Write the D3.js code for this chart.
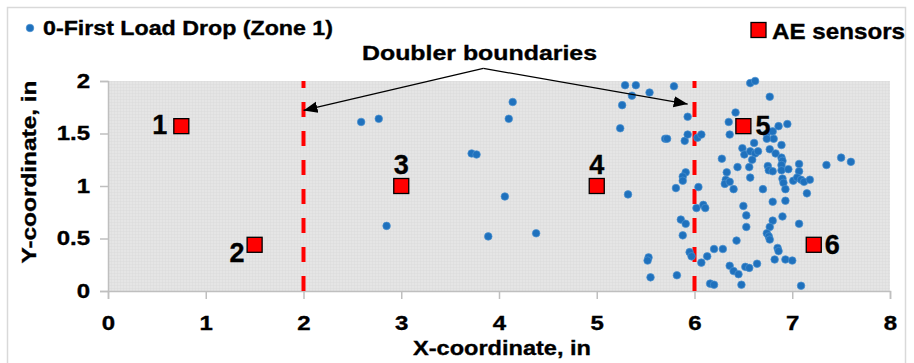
<!DOCTYPE html>
<meta charset="utf-8">
<style>
  body {margin: 0; background: #fff;}
  svg text {font-family: "Liberation Sans", Arial, sans-serif; font-weight: bold; fill: #000; stroke: #000; stroke-width: 0.35px;}
</style>
<svg width="914" height="363"></svg>
<script src="https://cdnjs.cloudflare.com/ajax/libs/d3/7.8.5/d3.min.js"></script>
<script>

// event locations (zone 1, first load drop)
var eventX = [2.59, 2.77, 3.72, 3.77, 4.14, 4.10, 4.06, 2.85, 3.89, 4.38,
  5.29, 5.40, 5.36, 5.54, 5.79, 5.26, 5.24, 5.93, 5.70, 5.72, 5.90, 5.93, 6.03, 6.07, 5.91, 5.88, 5.88, 5.32, 5.81, 6.04,
  6.57, 6.62, 6.77, 6.42, 6.35, 6.36, 6.86, 6.95, 6.74, 6.80, 6.81, 6.74, 6.89, 6.61, 6.49, 6.51, 6.57, 6.62, 6.65, 6.59,
  6.77, 6.83, 6.89, 6.90, 6.89, 6.28, 6.44, 6.56, 6.75, 6.76, 6.80, 6.89, 6.96, 7.07, 7.07, 7.35, 7.50, 7.60, 6.33, 6.32,
  6.31, 6.36, 6.40, 6.57, 6.70, 6.90, 6.91, 6.93, 7.01, 7.05, 7.09, 7.12, 7.18, 7.15, 6.80, 6.93,
  6.02, 6.09, 6.11, 5.86, 5.91, 5.88, 5.95, 5.97, 6.07, 6.13, 6.20, 6.29, 5.53, 5.52, 5.55, 5.82, 6.16, 6.20, 6.36, 6.40,
  6.45, 6.52, 6.56, 6.64, 6.48, 6.43, 6.50, 6.53, 6.53, 6.90, 6.80, 6.77, 6.74, 6.76, 6.77, 6.85, 6.86, 6.82, 6.93, 7.00,
  7.07, 7.09];
var eventY = [1.61, 1.64, 1.31, 1.30, 1.80, 1.64, 0.90, 0.62, 0.52, 0.55,
  1.96, 1.96, 1.86, 1.89, 1.95, 1.77, 1.55, 1.66, 1.45, 1.45, 1.43, 1.49, 1.46, 1.49, 1.13, 1.09, 1.05, 0.92, 0.98, 0.99,
  1.98, 2.00, 1.85, 1.70, 1.61, 1.49, 1.57, 1.59, 1.50, 1.52, 1.45, 1.45, 1.39, 1.41, 1.36, 1.30, 1.33, 1.31, 1.33, 1.25,
  1.35, 1.31, 1.27, 1.24, 1.20, 1.26, 1.18, 1.18, 1.19, 1.15, 1.14, 1.15, 1.16, 1.21, 1.14, 1.20, 1.27, 1.23, 1.13, 1.06,
  1.02, 1.04, 0.97, 1.08, 0.97, 1.07, 1.03, 0.97, 1.05, 1.08, 1.06, 1.04, 1.06, 0.93, 0.85, 0.86,
  0.79, 0.82, 0.79, 0.68, 0.64, 0.53, 0.37, 0.33, 0.27, 0.33, 0.40, 0.40, 0.32, 0.29, 0.13, 0.15, 0.07, 0.06, 0.24, 0.19,
  0.16, 0.23, 0.22, 0.26, 0.06, 0.48, 0.81, 0.72, 0.61, 0.71, 0.67, 0.61, 0.55, 0.52, 0.49, 0.41, 0.38, 0.30, 0.30, 0.29,
  0.64, 0.05];

var sensorLabels = ["1", "2", "3", "4", "5", "6"];
var sensorX = [0.75, 1.5, 3, 5, 6.5, 7.22];
var sensorY = [1.57, 0.44, 1.0, 1.0, 1.57, 0.44];

var boundaryX = [2, 6];

var xTicks = [0, 1, 2, 3, 4, 5, 6, 7, 8];
var yTicks = [0, 0.5, 1, 1.5, 2];

var svg = d3.select("svg");

var x = d3.scaleLinear().domain([0, 8]).range([108, 890]);
var y = d3.scaleLinear().domain([0, 2]).range([291, 81]);

// the picture is a bit wider than the plain font, so stretch the text
function stretch(sel, k) {
  sel.each(function() {
    var w = this.getComputedTextLength();
    d3.select(this).attr("textLength", w * k).attr("lengthAdjust", "spacingAndGlyphs");
  });
}

// outer frame
svg.append("rect")
  .attr("x", 7.5).attr("y", 7.5)
  .attr("width", 898).attr("height", 360)
  .style("fill", "#fff").style("stroke", "#d9d9d9").style("stroke-width", 1.5);

// grey plot area with fine grid texture
var defs = svg.append("defs");
var pat = defs.append("pattern")
  .attr("id", "grid").attr("width", 3).attr("height", 3)
  .attr("patternUnits", "userSpaceOnUse");
pat.append("rect").attr("width", 3).attr("height", 3).style("fill", "#e5e5e5");
pat.append("path").attr("d", "M0,0.5H3M0.5,0V3")
  .style("stroke", "#dadada").style("stroke-width", 0.5);

svg.append("rect")
  .attr("x", x(0)).attr("y", y(2))
  .attr("width", x(8) - x(0)).attr("height", y(0) - y(2))
  .style("fill", "url(#grid)");

// axes
var yAxis = svg.append("g")
  .attr("transform", "translate(" + x(0) + ",0)")
  .call(d3.axisLeft(y).tickValues(yTicks).tickSize(8).tickPadding(10).tickFormat(function(d) { return d; }));
var xAxis = svg.append("g")
  .attr("transform", "translate(0," + y(0) + ")")
  .call(d3.axisBottom(x).tickValues(xTicks).tickSize(8).tickPadding(17).tickFormat(function(d) { return d; }));

[xAxis, yAxis].forEach(function(a) {
  a.select(".domain").style("stroke", "#bfbfbf").style("stroke-width", 1.5);
  a.selectAll(".tick line").style("stroke", "#bfbfbf").style("stroke-width", 1.5);
  a.selectAll(".tick text")
    .style("font-family", "'Liberation Sans', Arial, sans-serif")
    .style("font-weight", "bold").style("font-size", "20px").style("fill", "#000");
});
stretch(xAxis.selectAll(".tick text"), 1.2);
stretch(yAxis.selectAll(".tick text"), 1.2);

// doubler boundaries
svg.append("g").selectAll("line")
  .data(boundaryX)
  .enter().append("line")
  .attr("x1", function(d) { return x(d); })
  .attr("x2", function(d) { return x(d); })
  .attr("y1", y(0))
  .attr("y2", y(2))
  .style("stroke", "#ff0000")
  .style("stroke-width", 4)
  .style("stroke-dasharray", "15,14");

// events
svg.append("g").selectAll("circle")
  .data(eventX)
  .enter().append("circle")
  .attr("cx", function(d) { return x(d); })
  .attr("cy", function(d, i) { return y(eventY[i]); })
  .attr("r", 3.8)
  .style("fill", "#1f71bd")
  .style("stroke", "#4a90d0")
  .style("stroke-width", 0.7);

// sensors
var labelShift = {
  "1": [-14, 8, "end"], "2": [-10, 17, "end"], "3": [0, -12, "middle"],
  "4": [0, -12, "middle"], "5": [12, 9, "start"], "6": [11, 9, "start"]
};
var sensors = svg.append("g").selectAll("g")
  .data(sensorLabels)
  .enter().append("g")
  .attr("transform", function(d, i) { return "translate(" + x(sensorX[i]) + "," + y(sensorY[i]) + ")"; });
sensors.append("rect")
  .attr("x", -7.5).attr("y", -7.5).attr("width", 15).attr("height", 15)
  .style("fill", "#ff0000").style("stroke", "#000").style("stroke-width", 1.3);
sensors.append("text")
  .attr("x", function(d) { return labelShift[d][0]; })
  .attr("y", function(d) { return labelShift[d][1]; })
  .attr("text-anchor", function(d) { return labelShift[d][2]; })
  .style("font-size", "27px")
  .text(function(d) { return d; });

// annotation arrows
defs.append("marker")
  .attr("id", "arrow").attr("viewBox", "0 0 10 10")
  .attr("refX", 10).attr("refY", 5)
  .attr("markerWidth", 14).attr("markerHeight", 14)
  .attr("markerUnits", "userSpaceOnUse")
  .attr("orient", "auto")
  .append("path").attr("d", "M0,1L10,5L0,9Z").style("fill", "#000");

var apex = [3.84, 2.12];
var tips = [[2.0, 1.72], [5.93, 1.78]];
svg.append("g").selectAll("line")
  .data(tips)
  .enter().append("line")
  .attr("x1", x(apex[0])).attr("y1", y(apex[1]))
  .attr("x2", function(d) { return x(d[0]); })
  .attr("y2", function(d) { return y(d[1]); })
  .style("stroke", "#000").style("stroke-width", 1.2)
  .attr("marker-end", "url(#arrow)");

svg.append("text")
  .attr("x", 362).attr("y", 60)
  .style("font-size", "21px")
  .attr("textLength", 235).attr("lengthAdjust", "spacingAndGlyphs")
  .text("Doubler boundaries");

// legend
svg.append("circle")
  .attr("cx", 30).attr("cy", 28).attr("r", 3.8)
  .style("fill", "#1f71bd").style("stroke", "#4a90d0").style("stroke-width", 0.7);
svg.append("text")
  .attr("x", 43).attr("y", 35)
  .style("font-size", "20px")
  .attr("textLength", 290).attr("lengthAdjust", "spacingAndGlyphs")
  .text("0-First Load Drop (Zone 1)");

svg.append("rect")
  .attr("x", 751).attr("y", 22.5).attr("width", 15).attr("height", 15)
  .style("fill", "#ff0000").style("stroke", "#000").style("stroke-width", 1.3);
svg.append("text")
  .attr("x", 772).attr("y", 38.5)
  .style("font-size", "22px")
  .attr("textLength", 133).attr("lengthAdjust", "spacingAndGlyphs")
  .text("AE sensors");

// axis titles
svg.append("text")
  .attr("x", 413).attr("y", 355)
  .style("font-size", "21px")
  .attr("textLength", 178).attr("lengthAdjust", "spacingAndGlyphs")
  .text("X-coordinate, in");

svg.append("text")
  .attr("transform", "translate(36,172) rotate(-90)")
  .attr("text-anchor", "middle")
  .style("font-size", "21px")
  .attr("textLength", 183).attr("lengthAdjust", "spacingAndGlyphs")
  .text("Y-coordinate, in");

</script>
